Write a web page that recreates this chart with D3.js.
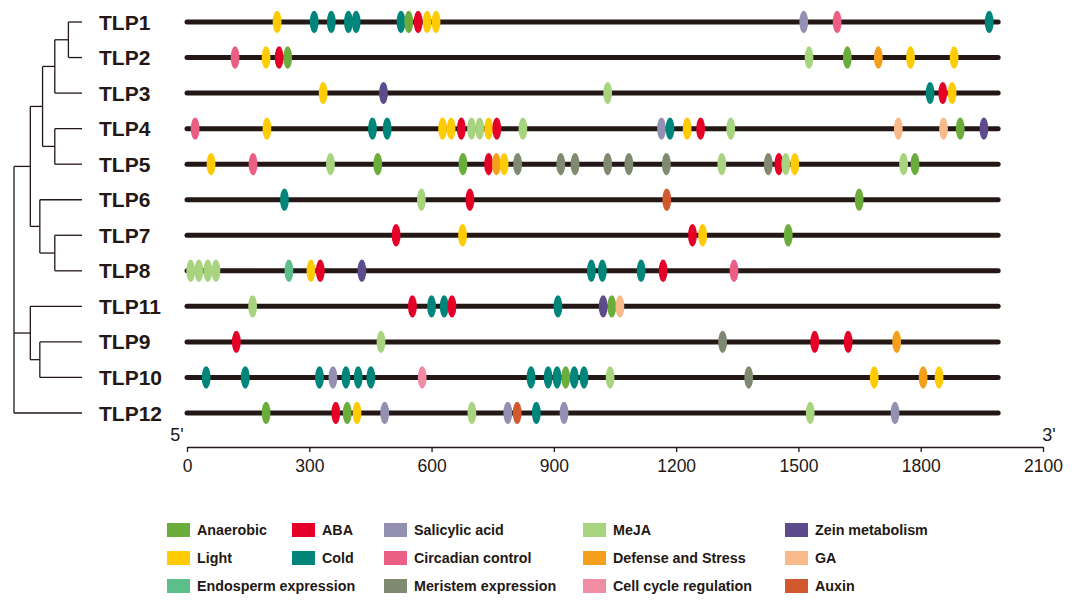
<!DOCTYPE html>
<html>
<head>
<meta charset="utf-8">
<script src="https://cdn.jsdelivr.net/npm/d3@7"></script>
<style>
  body { margin: 0; background: #fff; }
  svg { display: block; font-family: "Liberation Sans", Arial, sans-serif; }
</style>
</head>
<body>
<div id="chart"></div>
<script>
// Data

const genes = ['TLP1', 'TLP2', 'TLP3', 'TLP4', 'TLP5', 'TLP6', 'TLP7', 'TLP8', 'TLP11', 'TLP9', 'TLP10', 'TLP12'];
const geneLength = 1990;
const ticks = [0, 300, 600, 900, 1200, 1500, 1800, 2100];

const elementTypes = ['Anaerobic', 'ABA', 'Salicylic acid', 'MeJA', 'Zein metabolism',
  'Light', 'Cold', 'Circadian control', 'Defense and Stress', 'GA',
  'Endosperm expression', null, 'Meristem expression', 'Cell cycle regulation', 'Auxin'];
const elementColors = {
  'Anaerobic': '#6aad3b', 'ABA': '#e50028', 'Salicylic acid': '#9390b1', 'MeJA': '#a9d47f',
  'Zein metabolism': '#5d4b8e', 'Light': '#ffcb05', 'Cold': '#00857a',
  'Circadian control': '#ec5f84', 'Defense and Stress': '#f5a01c', 'GA': '#f8ba8a',
  'Endosperm expression': '#5cbf8b', 'Meristem expression': '#7f8a71',
  'Cell cycle regulation': '#f18ca5', 'Auxin': '#d2592f'
};

// sites per gene: [position, element]
const TLP1 = [[221, 'Light'], [312, 'Cold'], [354, 'Cold'], [396, 'Cold'], [415, 'Cold'], [525, 'Cold'],
  [544, 'Anaerobic'], [567, 'ABA'], [589, 'Light'], [611, 'Light'], [1513, 'Salicylic acid'],
  [1595, 'Circadian control'], [1968, 'Cold']];
const TLP2 = [[118, 'Circadian control'], [194, 'Light'], [226, 'ABA'], [247, 'Anaerobic'], [1526, 'MeJA'],
  [1620, 'Anaerobic'], [1696, 'Defense and Stress'], [1775, 'Light'], [1882, 'Light']];
const TLP3 = [[334, 'Light'], [482, 'Zein metabolism'], [1032, 'MeJA'], [1823, 'Cold'], [1854, 'ABA'], [1877, 'Light']];
const TLP4 = [[20, 'Circadian control'], [196, 'Light'], [455, 'Cold'], [491, 'Cold'], [627, 'Light'], [648, 'Light'],
  [673, 'ABA'], [698, 'MeJA'], [718, 'MeJA'], [740, 'Light'], [760, 'ABA'], [824, 'MeJA'],
  [1164, 'Salicylic acid'], [1185, 'Cold'], [1227, 'Light'], [1260, 'ABA'], [1334, 'MeJA'],
  [1745, 'GA'], [1856, 'GA'], [1897, 'Anaerobic'], [1955, 'Zein metabolism']];
const TLP5 = [[59, 'Light'], [162, 'Circadian control'], [352, 'MeJA'], [468, 'Anaerobic'], [677, 'Anaerobic'],
  [740, 'ABA'], [759, 'Defense and Stress'], [778, 'Light'], [811, 'Meristem expression'],
  [917, 'Meristem expression'], [952, 'Meristem expression'], [1032, 'Meristem expression'],
  [1084, 'Meristem expression'], [1176, 'Meristem expression'], [1312, 'MeJA'], [1426, 'Meristem expression'],
  [1452, 'ABA'], [1469, 'MeJA'], [1491, 'Light'], [1758, 'MeJA'], [1786, 'Anaerobic']];
const TLP6 = [[239, 'Cold'], [575, 'MeJA'], [694, 'ABA'], [1177, 'Auxin'], [1649, 'Anaerobic']];
const TLP7 = [[513, 'ABA'], [676, 'Light'], [1240, 'ABA'], [1265, 'Light'], [1475, 'Anaerobic']];
const TLP8 = [[9, 'MeJA'], [29, 'MeJA'], [51, 'MeJA'], [71, 'MeJA'], [250, 'Endosperm expression'], [304, 'Light'],
  [327, 'ABA'], [429, 'Zein metabolism'], [992, 'Cold'], [1019, 'Cold'], [1114, 'Cold'], [1168, 'ABA'],
  [1342, 'Circadian control']];
const TLP11 = [[161, 'MeJA'], [553, 'ABA'], [600, 'Cold'], [631, 'Cold'], [650, 'ABA'], [910, 'Cold'],
  [1021, 'Zein metabolism'], [1042, 'Anaerobic'], [1062, 'GA']];
const TLP9 = [[121, 'ABA'], [476, 'MeJA'], [1314, 'Meristem expression'], [1540, 'ABA'], [1622, 'ABA'],
  [1741, 'Defense and Stress']];
const TLP10 = [[47, 'Cold'], [143, 'Cold'], [325, 'Cold'], [358, 'Salicylic acid'], [390, 'Cold'], [420, 'Cold'],
  [451, 'Cold'], [577, 'Cell cycle regulation'], [844, 'Cold'], [886, 'Cold'], [908, 'Cold'],
  [929, 'Anaerobic'], [950, 'Cold'], [974, 'Cold'], [1038, 'MeJA'], [1378, 'Meristem expression'],
  [1686, 'Light'], [1806, 'Defense and Stress'], [1845, 'Light']];
const TLP12 = [[194, 'Anaerobic'], [365, 'ABA'], [393, 'Anaerobic'], [417, 'Light'], [485, 'Salicylic acid'],
  [699, 'MeJA'], [787, 'Salicylic acid'], [810, 'Auxin'], [857, 'Cold'], [925, 'Salicylic acid'],
  [1529, 'MeJA'], [1737, 'Salicylic acid']];
const sites = { TLP1, TLP2, TLP3, TLP4, TLP5, TLP6, TLP7, TLP8, TLP11, TLP9, TLP10, TLP12 };

// dendrogram: node heights (0 = leaves)
const tree = { h: 5, children: [
  { h: 3.8, children: [
    { h: 2.9, children: [
      { h: 2, children: [{ h: 1, children: [{ name: 'TLP1' }, { name: 'TLP2' }] }, { name: 'TLP3' }] },
      { h: 2, children: [{ name: 'TLP4' }, { name: 'TLP5' }] }
    ] },
    { h: 3.1, children: [{ name: 'TLP6' }, { h: 2, children: [{ name: 'TLP7' }, { name: 'TLP8' }] }] }
  ] },
  { h: 3.8, children: [{ name: 'TLP11' }, { h: 3.1, children: [{ name: 'TLP9' }, { name: 'TLP10' }] }] },
  { name: 'TLP12' }
] };

function buildChart() {
  const width = 1083;
  const height = 600;

  const svg = d3.select('#chart').append('svg')
    .attr('width', width)
    .attr('height', height);

  const x = d3.scaleLinear().domain([0, 2100]).range([187, 1043]);
  const y = d3.scalePoint().domain(genes).range([22, 413]);

  // Tree
  const hx = d3.scaleLinear().domain([0, 5]).range([82, 14]);
  const root = d3.hierarchy(tree);
  root.eachAfter((n) => {
    if (!n.children) {
      n.py = y(n.data.name);
      n.px = hx(0);
    } else {
      n.py = (n.children[0].py + n.children[n.children.length - 1].py) / 2;
      n.px = hx(n.data.h);
    }
  });
  const treeG = svg.append('g')
    .attr('fill', 'none')
    .attr('stroke', '#231815')
    .attr('stroke-width', 1.3);
  root.descendants().filter((n) => n.children).forEach((n) => {
    treeG.append('line')
      .attr('x1', n.px).attr('x2', n.px)
      .attr('y1', n.children[0].py).attr('y2', n.children[n.children.length - 1].py);
    n.children.forEach((c) => {
      treeG.append('line')
        .attr('x1', n.px).attr('x2', c.px)
        .attr('y1', c.py).attr('y2', c.py);
    });
  });

  // Gene labels
  svg.selectAll('.gene-label')
    .data(genes)
    .enter()
    .append('text')
    .attr('class', 'gene-label')
    .attr('x', 99)
    .attr('y', (d) => y(d))
    .attr('dy', '0.36em')
    .attr('font-size', 21)
    .attr('font-weight', 'bold')
    .attr('fill', '#231815')
    .text((d) => d);

  // Backbones
  svg.selectAll('.backbone')
    .data(genes)
    .enter()
    .append('line')
    .attr('class', 'backbone')
    .attr('x1', x(0))
    .attr('x2', x(geneLength))
    .attr('y1', (d) => y(d))
    .attr('y2', (d) => y(d))
    .attr('stroke', '#231815')
    .attr('stroke-width', 5)
    .attr('stroke-linecap', 'round');

  // Elements
  genes.forEach((g) => {
    svg.append('g')
      .selectAll('ellipse')
      .data(sites[g])
      .enter()
      .append('ellipse')
      .attr('cx', (d) => x(d[0]))
      .attr('cy', y(g))
      .attr('rx', 4.4)
      .attr('ry', 11.2)
      .attr('fill', (d) => elementColors[d[1]]);
  });

  // X axis
  const xAxis = d3.axisBottom(x).tickValues(ticks).tickFormat(d3.format('d')).tickSize(5).tickSizeOuter(0);
  const axisG = svg.append('g')
    .attr('transform', 'translate(0,447)')
    .call(xAxis);
  axisG.select('.domain').attr('stroke', '#231815').attr('stroke-width', 1.3);
  axisG.selectAll('.tick line').attr('stroke', '#231815').attr('stroke-width', 1.3);
  axisG.selectAll('.tick text')
    .attr('font-size', 17.5)
    .attr('font-family', '"Liberation Sans", Arial, sans-serif')
    .attr('fill', '#231815')
    .attr('dy', '0.95em');

  svg.append('text').attr('x', x(0) - 10).attr('y', 441).attr('text-anchor', 'middle')
    .attr('font-size', 18).attr('fill', '#231815').text("5'");
  svg.append('text').attr('x', x(2100) + 6).attr('y', 441).attr('text-anchor', 'middle')
    .attr('font-size', 18).attr('fill', '#231815').text("3'");

  // Legend
  const colX = [167, 292, 384, 583, 785];
  const rowY = [530, 558, 586];
  const legend = svg.append('g');
  elementTypes.forEach((t, i) => {
    if (!t) return;
    const cx = colX[i % 5];
    const cy = rowY[Math.floor(i / 5)];
    legend.append('rect')
      .attr('x', cx).attr('y', cy - 7)
      .attr('width', 23).attr('height', 14)
      .attr('fill', elementColors[t]);
    legend.append('text')
      .attr('x', cx + 30).attr('y', cy)
      .attr('dy', '0.35em')
      .attr('font-size', 14.3)
      .attr('font-weight', 'bold')
      .attr('fill', '#231815')
      .text(t);
  });
}

buildChart();
</script>
</body>
</html>
